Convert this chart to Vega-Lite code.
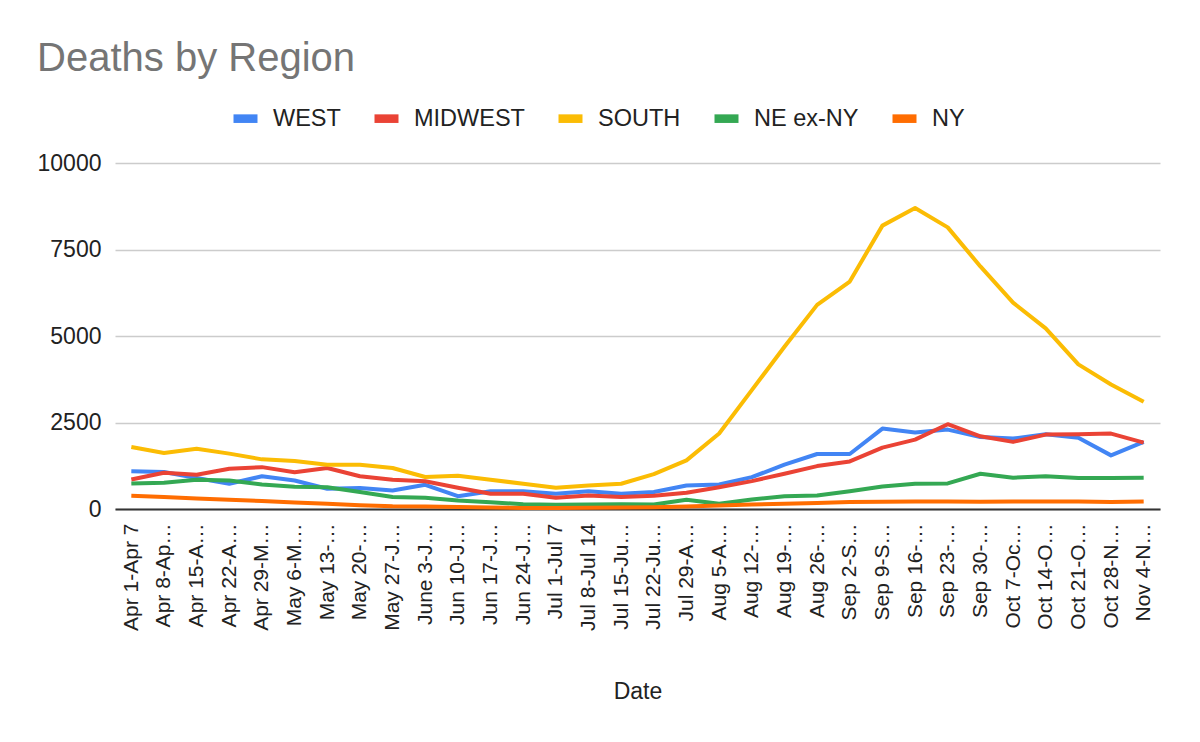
{
  "$schema": "https://vega.github.io/schema/vega-lite/v6.json",
  "width": 1045,
  "height": 346,
  "autosize": {"type": "none"},
  "padding": {"left": 115, "top": 163, "right": 40, "bottom": 233},
  "background": "white",
  "config": {
    "font": "Liberation Sans",
    "view": {"stroke": null}
  },
  "title": {
    "text": "Deaths by Region",
    "anchor": "start",
    "frame": "bounds",
    "fontSize": 40,
    "fontWeight": "normal",
    "color": "#757575",
    "offset": 23
  },
  "data": {
    "values": [
      {"week": "Apr 1-Apr 7", "WEST": 1090, "MIDWEST": 855, "SOUTH": 1790, "NE ex-NY": 740, "NY": 380},
      {"week": "Apr 8-Apr 14", "WEST": 1070, "MIDWEST": 1050, "SOUTH": 1620, "NE ex-NY": 760, "NY": 345},
      {"week": "Apr 15-Apr 21", "WEST": 895, "MIDWEST": 990, "SOUTH": 1740, "NE ex-NY": 845, "NY": 305},
      {"week": "Apr 22-Apr 28", "WEST": 730, "MIDWEST": 1165, "SOUTH": 1600, "NE ex-NY": 825, "NY": 265},
      {"week": "Apr 29-May 5", "WEST": 945, "MIDWEST": 1210, "SOUTH": 1435, "NE ex-NY": 710, "NY": 230},
      {"week": "May 6-May 12", "WEST": 825, "MIDWEST": 1060, "SOUTH": 1390, "NE ex-NY": 645, "NY": 190},
      {"week": "May 13-May 19", "WEST": 585, "MIDWEST": 1185, "SOUTH": 1280, "NE ex-NY": 630, "NY": 150},
      {"week": "May 20-May 26", "WEST": 605, "MIDWEST": 945, "SOUTH": 1280, "NE ex-NY": 490, "NY": 110},
      {"week": "May 27-Jun 2", "WEST": 535, "MIDWEST": 845, "SOUTH": 1185, "NE ex-NY": 345, "NY": 80},
      {"week": "June 3-Jun 9", "WEST": 700, "MIDWEST": 800, "SOUTH": 925, "NE ex-NY": 325, "NY": 75},
      {"week": "Jun 10-Jun 16", "WEST": 370, "MIDWEST": 615, "SOUTH": 960, "NE ex-NY": 245, "NY": 55},
      {"week": "Jun 17-Jun 23", "WEST": 515, "MIDWEST": 440, "SOUTH": 845, "NE ex-NY": 195, "NY": 40},
      {"week": "Jun 24-Jun 30", "WEST": 515, "MIDWEST": 440, "SOUTH": 730, "NE ex-NY": 140, "NY": 30},
      {"week": "Jul 1-Jul 7", "WEST": 440, "MIDWEST": 325, "SOUTH": 615, "NE ex-NY": 120, "NY": 30},
      {"week": "Jul 8-Jul 14", "WEST": 515, "MIDWEST": 390, "SOUTH": 680, "NE ex-NY": 130, "NY": 35},
      {"week": "Jul 15-Jul 21", "WEST": 440, "MIDWEST": 345, "SOUTH": 730, "NE ex-NY": 140, "NY": 40},
      {"week": "Jul 22-Jul 28", "WEST": 490, "MIDWEST": 380, "SOUTH": 1010, "NE ex-NY": 130, "NY": 50},
      {"week": "Jul 29-Aug 4", "WEST": 680, "MIDWEST": 470, "SOUTH": 1406, "NE ex-NY": 265, "NY": 70},
      {"week": "Aug 5-Aug 11", "WEST": 710, "MIDWEST": 630, "SOUTH": 2180, "NE ex-NY": 150, "NY": 100},
      {"week": "Aug 12-Aug 18", "WEST": 920, "MIDWEST": 806, "SOUTH": 3435, "NE ex-NY": 275, "NY": 130},
      {"week": "Aug 19-Aug 25", "WEST": 1280, "MIDWEST": 1020, "SOUTH": 4690, "NE ex-NY": 370, "NY": 150},
      {"week": "Aug 26-Sep 1", "WEST": 1590, "MIDWEST": 1240, "SOUTH": 5900, "NE ex-NY": 390, "NY": 170},
      {"week": "Sep 2-Sep 8", "WEST": 1590, "MIDWEST": 1375, "SOUTH": 6575, "NE ex-NY": 515, "NY": 200},
      {"week": "Sep 9-Sep 15", "WEST": 2325, "MIDWEST": 1775, "SOUTH": 8190, "NE ex-NY": 650, "NY": 210},
      {"week": "Sep 16-Sep 22", "WEST": 2210, "MIDWEST": 2005, "SOUTH": 8700, "NE ex-NY": 730, "NY": 215},
      {"week": "Sep 23-Sep 29", "WEST": 2295, "MIDWEST": 2450, "SOUTH": 8140, "NE ex-NY": 740, "NY": 220},
      {"week": "Sep 30-Oct 6", "WEST": 2080, "MIDWEST": 2100, "SOUTH": 7010, "NE ex-NY": 1020, "NY": 210},
      {"week": "Oct 7-Oct 13", "WEST": 2035, "MIDWEST": 1940, "SOUTH": 5965, "NE ex-NY": 905, "NY": 220},
      {"week": "Oct 14-Oct 20", "WEST": 2160, "MIDWEST": 2150, "SOUTH": 5220, "NE ex-NY": 950, "NY": 215},
      {"week": "Oct 21-Oct 27", "WEST": 2060, "MIDWEST": 2160, "SOUTH": 4180, "NE ex-NY": 895, "NY": 220},
      {"week": "Oct 28-Nov 3", "WEST": 1550, "MIDWEST": 2180, "SOUTH": 3600, "NE ex-NY": 895, "NY": 200},
      {"week": "Nov 4-Nov 10", "WEST": 1940, "MIDWEST": 1920, "SOUTH": 3100, "NE ex-NY": 905, "NY": 215}
    ]
  },
  "transform": [
    {"fold": ["WEST", "MIDWEST", "SOUTH", "NE ex-NY", "NY"], "as": ["region", "deaths"]}
  ],
  "mark": {"type": "line", "strokeWidth": 4, "strokeJoin": "round"},
  "encoding": {
    "x": {
      "field": "week",
      "type": "ordinal",
      "sort": null,
      "axis": {
        "title": "Date",
        "titleFontSize": 23,
        "titleFontWeight": "normal",
        "titleColor": "#222",
        "titlePadding": 50,
        "labelAngle": -90,
        "labelFontSize": 21,
        "labelColor": "#222",
        "labelLimit": 108,
        "labelPadding": 14,
        "ticks": false,
        "grid": false,
        "domainColor": "#333",
        "domainWidth": 2
      }
    },
    "y": {
      "field": "deaths",
      "type": "quantitative",
      "scale": {"domain": [0, 10000], "nice": false},
      "axis": {
        "title": null,
        "format": "d",
        "values": [0, 2500, 5000, 7500, 10000],
        "labelFontSize": 23,
        "labelColor": "#222",
        "labelPadding": 14,
        "ticks": false,
        "domain": false,
        "gridColor": "#cccccc",
        "gridWidth": 1.5
      }
    },
    "color": {
      "field": "region",
      "type": "nominal",
      "scale": {
        "domain": ["WEST", "MIDWEST", "SOUTH", "NE ex-NY", "NY"],
        "range": ["#4285F4", "#EA4335", "#FBBC04", "#34A853", "#FF6D01"]
      },
      "legend": {
        "title": null,
        "orient": "none",
        "direction": "horizontal",
        "legendX": 114,
        "legendY": -61,
        "padding": 0,
        "symbolType": "stroke",
        "symbolSize": 576,
        "symbolStrokeWidth": 8.6,
        "labelFontSize": 23.5,
        "labelColor": "#222",
        "labelOffset": 11,
        "columnPadding": 16
      }
    }
  }
}
